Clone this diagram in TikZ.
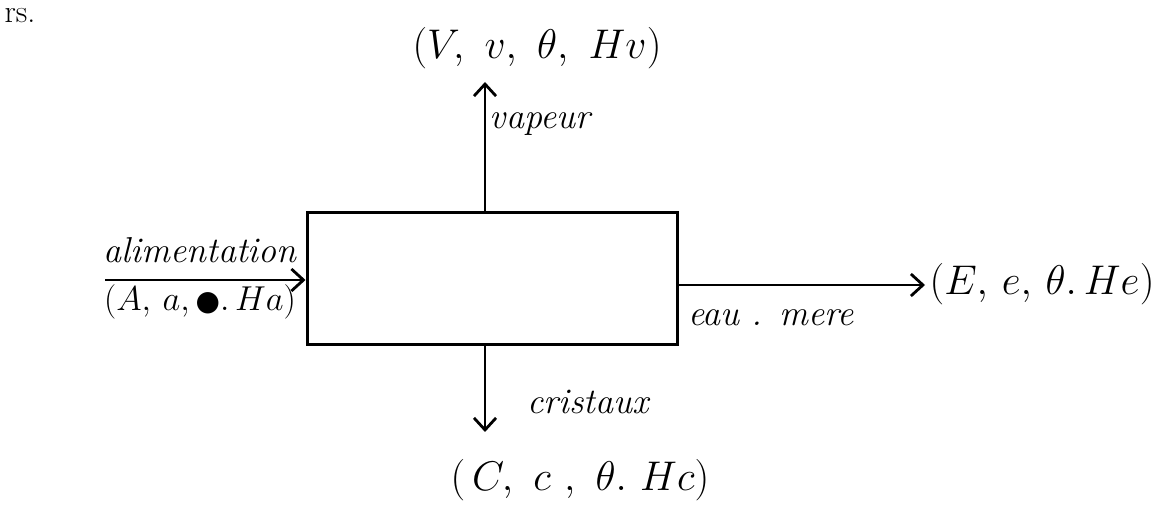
\documentclass[tikz,border=0pt]{standalone}
\usepackage{fontspec}
\newfontfamily\symfont{DejaVu Sans}
\usetikzlibrary{arrows.meta}
\tikzset{
  flow/.style={line width=1.4pt,-{Straight Barb[length=6pt,width=11pt,line width=1.4pt]}},
  word/.style={font=\fontsize{18}{20}\selectfont\itshape,inner sep=0pt},
  tuple/.style={font=\fontsize{22}{24}\selectfont,inner sep=0pt},
  unit/.style={draw,line width=1.5pt,minimum width=185pt,minimum height=66pt,inner sep=0pt}
}
\begin{document}
\begin{tikzpicture}[x=0.5pt,y=-0.5pt]
\useasboundingbox (0,0) rectangle (1166,512);
\node[font=\fontsize{16}{18}\selectfont,inner sep=0pt] (rs) at (20,16) {rs.};
\node[unit] (box) at (492,279) {};
\coordinate (vtop) at (485,82);
\coordinate (ain) at (105,280);
\coordinate (eout) at (925,285);
\coordinate (cout) at (485,432);
\draw[flow] (box.north -| vtop) -- (vtop);
\draw[flow] (ain) -- (ain -| box.west);
\draw[flow] (eout -| box.east) -- (eout);
\draw[flow] (box.south -| cout) -- (cout);
\node[tuple] (vout) at (537,48) {$(V,\ v,\ \theta,\ Hv)$};
\node[word] (vap) at (540,124) {vapeur};
\node[word] (alim) at (200,250) {alimentation};
\node[tuple,font=\fontsize{17}{19}\selectfont] (ain-l) at (200,302) {$(A,\,a,\,${\symfont\fontsize{14}{16}\selectfont ●}$.\,Ha)$};
\node[word] (eau) at (771,318) {eau . mere};
\node[tuple] (eout-l) at (1042,284) {$(E,\,e,\,\theta.\,He)$};
\node[tuple] (cout-l) at (580,480) {$(\,C,\ c\ ,\ \theta.\ Hc)$};
\node[word] (cri) at (588,402) {cristaux};
\end{tikzpicture}
\end{document}
